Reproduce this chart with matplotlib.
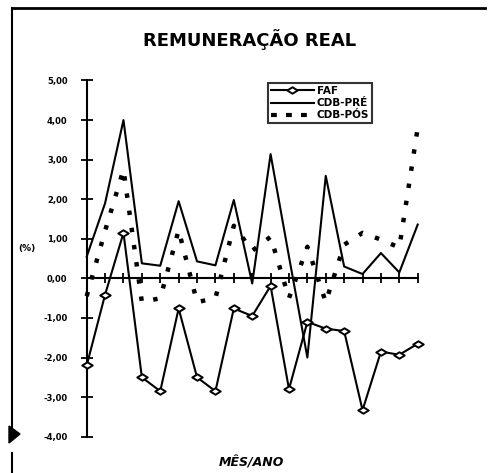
import matplotlib.pyplot as plt
from matplotlib.path import Path
from matplotlib.lines import Line2D
from matplotlib.patches import Polygon

# 19 periods (month/year), no labels printed on the axis
periodos = list(range(19))

faf = [-2.20, -0.41, 1.15, -2.50, -2.85, -0.76, -2.50, -2.85, -0.76, -0.95,
       -0.19, -2.80, -1.10, -1.27, -1.33, -3.33, -1.85, -1.93, -1.65]
cdb_pre = [0.55, 1.90, 4.00, 0.38, 0.32, 1.95, 0.43, 0.33, 1.98, -0.13,
           3.14, 0.55, -2.00, 2.59, 0.30, 0.11, 0.64, 0.15, 1.36]
cdb_pos = [-0.45, 1.20, 2.75, -0.60, -0.50, 1.22, -0.60, -0.50, 1.33, 0.70,
           1.05, -0.50, 0.80, -0.60, 0.85, 1.15, 0.98, 0.78, 3.80]

y_ticks = [5, 4, 3, 2, 1, 0, -1, -2, -3, -4]
y_labels = ['5,00', '4,00', '3,00', '2,00', '1,00', '0,00',
            '-1,00', '-2,00', '-3,00', '-4,00']

W, H = 489, 473
fig = plt.figure(figsize=(W / 100, H / 100), dpi=100)
fig.patch.set_facecolor('white')

ax = fig.add_axes([86.7 / W, (H - 436.7) / H, 331 / W, 356.2 / H])
ax.set_xlim(0, 18)
ax.set_ylim(-4, 5)

diamond = Path([(-1, 0), (0, 0.62), (1, 0), (0, -0.62), (-1, 0)],
               [Path.MOVETO, Path.LINETO, Path.LINETO, Path.LINETO, Path.CLOSEPOLY])

dots = (0, (1.0, 2.9))
ax.plot(periodos, cdb_pos, color='black', lw=3.2, linestyle=dots, zorder=3,
        clip_on=False)
ax.plot(periodos, cdb_pre, color='black', lw=1.5, zorder=4, clip_on=False)
ax.plot(periodos, faf, color='black', lw=1.5, marker=diamond, markersize=7.5,
        markerfacecolor='white', markeredgecolor='black', markeredgewidth=1.4,
        zorder=5, clip_on=False)

for s in ['top', 'right']:
    ax.spines[s].set_visible(False)
ax.spines['bottom'].set_position(('data', 0))
ax.spines['left'].set_linewidth(1.5)
ax.spines['bottom'].set_linewidth(1.5)

ax.set_xticks(periodos)
ax.set_xticklabels([])
ax.tick_params(axis='x', direction='inout', length=7, width=1.3)
ax.set_yticks(y_ticks)
ax.set_yticklabels(y_labels, fontsize=6, fontweight='bold')
ax.tick_params(axis='y', direction='inout', length=8.5, width=1.3, pad=9.5)

leg_handles = [
    Line2D([], [], color='black', lw=1.5, marker=diamond, markersize=7.5,
           markerfacecolor='white', markeredgewidth=1.4, markevery=[1]),
    Line2D([], [], color='black', lw=1.5),
    Line2D([], [], color='black', lw=3.0, linestyle=(0, (1.4, 2.2))),
]
leg = fig.legend(leg_handles, ['FAF', 'CDB-PRÉ', 'CDB-PÓS'],
                 loc='upper left', bbox_to_anchor=(268 / W, 1 - 83 / H),
                 frameon=True, fancybox=False,
                 prop={'weight': 'bold', 'size': 7.5},
                 handlelength=4.1, handletextpad=0.3, labelspacing=0.2,
                 borderpad=0.3, borderaxespad=0)
leg.get_frame().set_edgecolor('black')
leg.get_frame().set_linewidth(1.5)

fig.text(250 / W, 1 - 40 / H, 'REMUNERAÇÃO REAL', ha='center', va='center',
         fontsize=13, fontweight='bold')
fig.text(27 / W, 1 - 249 / H, '(%)', ha='center', va='center',
         fontsize=6.5, fontweight='bold')
fig.text(251 / W, 1 - 463 / H, 'MÊS/ANO', ha='center', va='center',
         fontsize=9, fontweight='bold', style='italic')

# page frame of the scanned sheet
fig.add_artist(Line2D([12 / W, 485 / W], [1 - 8 / H, 1 - 8 / H],
                      color='black', lw=2.0))
fig.add_artist(Line2D([12 / W, 12 / W], [1 - 8 / H, 1 - 427 / H],
                      color='black', lw=1.5))
fig.add_artist(Line2D([12 / W, 12 / W], [1 - 453 / H, 0],
                      color='black', lw=1.5))
fig.add_artist(Polygon([(9 / W, 1 - 426 / H), (20 / W, 1 - 434 / H),
                        (9 / W, 1 - 443 / H)], closed=True,
                       transform=fig.transFigure, color='black'))

fig.savefig('out.png', dpi=100)
